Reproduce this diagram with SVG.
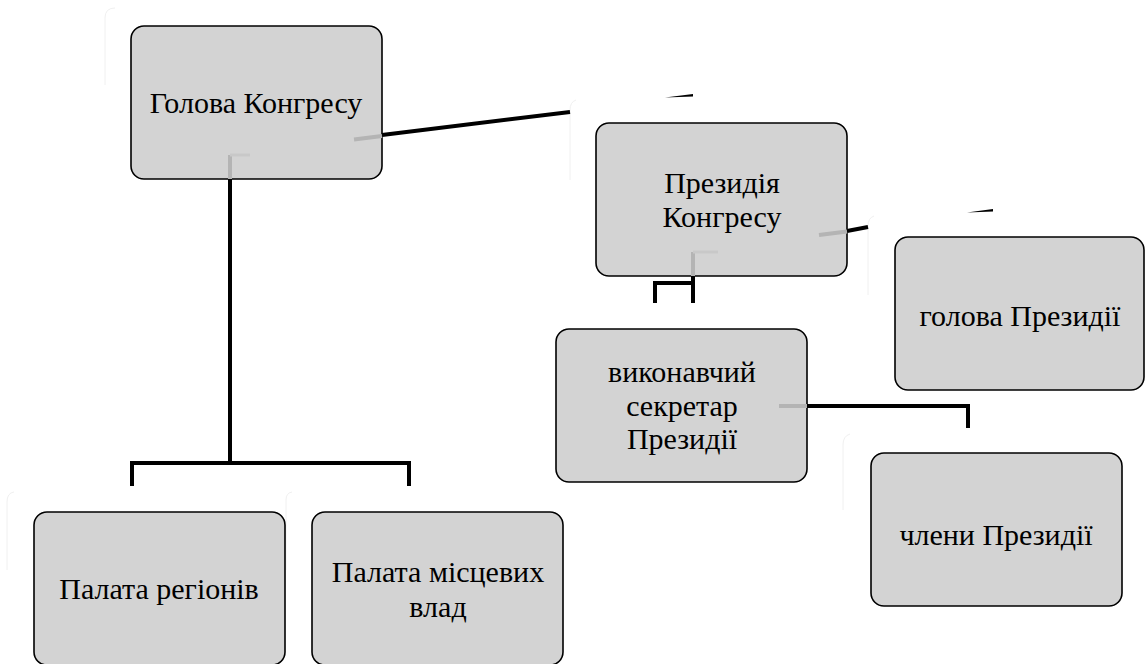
<svg xmlns="http://www.w3.org/2000/svg" width="1145" height="664" viewBox="0 0 1145 664">
<style>
.box{fill:#d3d3d3;stroke:#000;stroke-width:1.6}
.t{font-family:'Liberation Serif','Times New Roman',serif;font-size:30px;fill:#000;text-anchor:middle}
.c{fill:none;stroke:#000;stroke-width:4;stroke-linejoin:miter}
.g{fill:none;stroke:#b4b4b4;stroke-width:4}
.g2{fill:none;stroke:#c8c8c8;stroke-width:3}
.f{fill:none;stroke:#f0f0f0;stroke-width:1}
</style>
<rect width="1145" height="664" fill="#fff"/>
<g id="faint">
<path class="f" d="M105 85 V18 Q105 8 115 8"/>
<path class="f" d="M570 180 V110 Q570 102 576 100"/>
<path class="f" d="M868 295 V226 Q868 218 874 216"/>
<path class="f" d="M843 510 V445 Q843 436 850 434"/>
<path class="f" d="M7 570 V502 Q7 493 14 492"/>
<path class="f" d="M286 570 V500 Q286 493 292 492"/>
</g>
<g id="connectors">
<line class="c" x1="382" y1="135" x2="570" y2="112"/>
<polygon points="665,97.5 693,94 693,96.5" fill="#000"/>
<line class="c" x1="847" y1="231" x2="868" y2="227"/>
<polygon points="967,212.5 993,209 993,211.5" fill="#000"/>
<polyline class="c" points="230,179 230,463 132,463 132,486"/>
<polyline class="c" points="230,463 409,463 409,486"/>
<polyline class="c" points="693,276 693,303"/>
<polyline class="c" points="693,283 655,283 655,303"/>
<polyline class="c" points="807,406 968,406 968,428"/>
</g>
<g id="n1">
<rect class="box" x="131" y="26" width="251" height="153" rx="13"/>
<text class="t" x="256" y="113">Голова Конгресу</text>
<path class="g" d="M354 139.5 L382 136"/>
<path class="g" d="M230 179 V155"/>
<path class="g2" d="M230 155 H250"/>
</g>
<g id="n2">
<rect class="box" x="596" y="123" width="251" height="153" rx="13"/>
<text class="t" x="722" y="193">Президія</text>
<text class="t" x="722" y="227">Конгресу</text>
<path class="g" d="M819 235 L847 231.5"/>
<path class="g" d="M693 276 V252"/>
<path class="g2" d="M693 252 H718"/>
</g>
<g id="n3">
<rect class="box" x="556" y="329" width="251" height="153" rx="13"/>
<text class="t" x="682" y="382">виконавчий</text>
<text class="t" x="682" y="416">секретар</text>
<text class="t" x="682" y="449">Президії</text>
<path class="g" d="M779 406 H807"/>
</g>
<g id="n4">
<rect class="box" x="895" y="237" width="249" height="153" rx="13"/>
<text class="t" x="1020" y="326">голова Президії</text>
</g>
<g id="n5">
<rect class="box" x="871" y="453" width="251" height="153" rx="13"/>
<text class="t" x="996" y="545">члени Президії</text>
</g>
<g id="n6">
<rect class="box" x="34" y="512" width="251" height="153" rx="13"/>
<text class="t" x="159" y="599">Палата регіонів</text>
</g>
<g id="n7">
<rect class="box" x="312" y="512" width="251" height="153" rx="13"/>
<text class="t" x="438" y="582">Палата місцевих</text>
<text class="t" x="438" y="617">влад</text>
</g>
</svg>
